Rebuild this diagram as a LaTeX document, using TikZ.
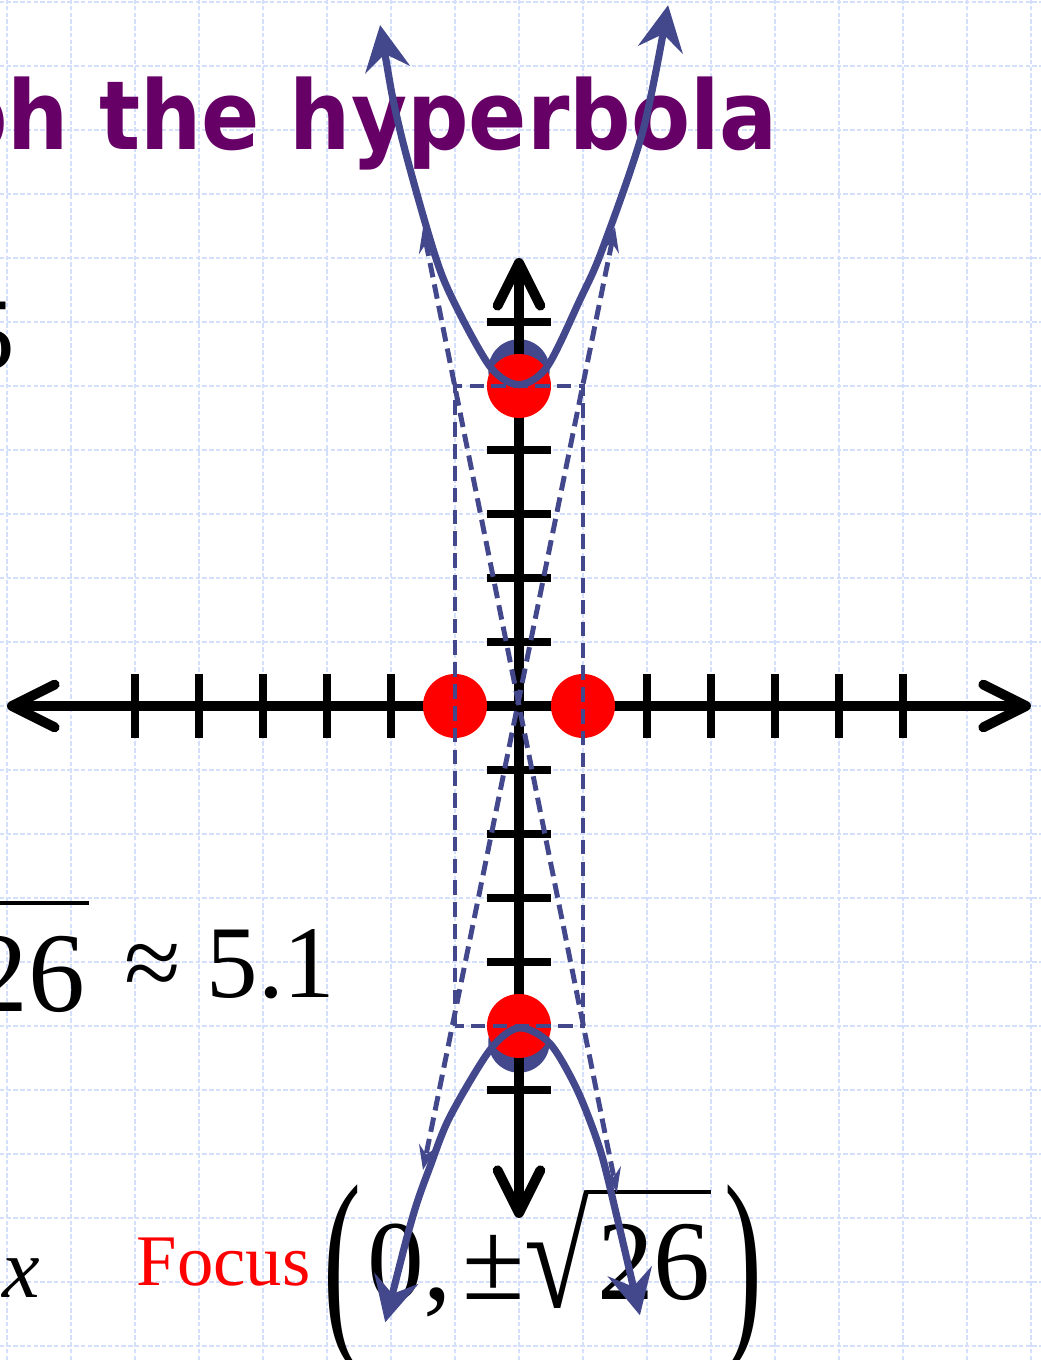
\documentclass[tikz,border=0pt]{standalone}
\usepackage{fontspec}
\usepackage{graphicx}
\setmainfont{Liberation Serif}
\newfontfamily\titlefont{DejaVu Sans}
\usepackage{tikz}
\usetikzlibrary{arrows.meta, positioning}
\definecolor{hblue}{RGB}{67,72,140}
\definecolor{hred}{RGB}{255,0,0}
\definecolor{hpurple}{RGB}{102,0,102}
\definecolor{hgrid}{RGB}{212,223,252}

\begin{document}
\begin{tikzpicture}[
  gridline/.style={draw=hgrid, line width=0.7pt, dash pattern=on 2pt off 1pt},
  axisline/.style={line width=4.4pt, >={Straight Barb[length=19pt,width=19pt,round]}, <->},
  tickmark/.style={line width=3.8pt},
  guide/.style={draw=hblue, line width=2.2pt, dash pattern=on 6.5pt off 3.2pt},
  asym/.style={guide, >={Stealth[length=11pt,width=8pt,inset=4pt]}, <->},
  branch/.style={draw=hblue, line width=3.2pt, >={Stealth[length=20pt,width=20pt,inset=7pt]}, <->},
  vdot/.style={circle, fill=hred, minimum size=1cm, inner sep=0pt},
  fdot/.style={circle, fill=hblue, minimum size=0.96cm, inner sep=0pt},
  label/.style={inner sep=0pt}]

  \useasboundingbox (-8.109,-10.219) rectangle (8.156,11.031);

  % background grid
  \foreach \gx in {-8,...,8}
    \draw[gridline] (\gx,-10.22) -- (\gx,11.03);
  \foreach \gy in {-10,...,11}
    \draw[gridline] (-8.11,\gy) -- (8.16,\gy);

  % ── title and side notes ──
  \node[label, anchor=base east, text=hpurple,
        font={\titlefont\bfseries\fontsize{42.5pt}{50pt}\selectfont}] (title) at (4.05,8.69)
    {\scalebox{0.9}[1]{ph the hyperbola}};
  \node[label, anchor=base east, font=\fontsize{45.8pt}{50pt}\selectfont] (aval) at (-7.86,5.25) {5};
  \node[label, anchor=base east, font=\fontsize{50.5pt}{56pt}\selectfont] (croot) at (-6.77,-4.78)
    {\rlap{\kern-0.1em\rule[0.94em]{1.13em}{0.035em}}26};
  \node[label, anchor=base east, font=\fontsize{45.8pt}{50pt}\selectfont] (capprox) at (-2.86,-4.55) {≈ 5.1};
  \node[label, anchor=base west, font=\itshape\fontsize{37.6pt}{42pt}\selectfont] (xvar) at (-8.08,-9.25) {x};
  \node[label, anchor=base west, text=hred, font=\fontsize{32.3pt}{36pt}\selectfont] (focus) at (-5.98,-9.05) {Focus};
  \node[label, anchor=base west, font=\fontsize{50.5pt}{56pt}\selectfont] (fcoord) at (-3.06,-9.28)
    {\raisebox{-0.27em}{\scalebox{1}[1.85]{(}}\kern0.05em 0,\kern0.09em ±\raisebox{-0.07em}{\scalebox{1.05}[1.3]{√}}\kern-0.04em\rlap{\rule[0.93em]{1.1em}{0.04em}}\kern0.1em 26\kern0.12em\raisebox{-0.27em}{\scalebox{1}[1.85]{)}}};

  % ── foci ──
  \node[fdot] (ftop) at (0,5.25) {};
  \node[fdot] (fbot) at (0,-5.25) {};

  % ── axes ──
  \coordinate (xl) at (-8,0);
  \coordinate (xr) at (8,0);
  \coordinate (yb) at (0,-8);
  \coordinate (yt) at (0,7);
  \draw[axisline] (xl) -- (xr);
  \draw[axisline] (yb) -- (yt);
  \foreach \t in {-6,...,-1,1,2,...,6} {
    \draw[tickmark] (\t,-0.5) -- (\t,0.5);
    \draw[tickmark] (-0.5,\t) -- (0.5,\t);
  }

  % ── vertices and co-vertices ──
  \node[vdot] (vtop) at (0,5) {};
  \node[vdot] (vbot) at (0,-5) {};
  \node[vdot] (cleft) at (-1,0) {};
  \node[vdot] (cright) at (1,0) {};

  % ── central box and asymptotes ──
  \draw[guide] (-1,-5) rectangle (1,5);
  \coordinate (a1s) at (-1.5,7.47);
  \coordinate (a1e) at (1.53,-7.6);
  \coordinate (a2s) at (1.5,7.48);
  \coordinate (a2e) at (-1.5,-7.25);
  \draw[asym] (a1s) -- (a1e);
  \draw[asym] (a2s) -- (a2e);

  % ── branches ──
  \draw[branch] plot[smooth] coordinates {(-2.17,10.64) (-1.86,9.0) (-1.34,7.13) (-1.03,6.34)
    (-0.45,5.30) (0,5.02) (0.44,5.30) (0.95,6.34) (1.30,7.13) (1.94,9.0) (2.33,10.95)};
  \draw[branch] plot[smooth] coordinates {(-2.09,-9.63) (-1.66,-7.98) (-1.39,-7.2) (-1.08,-6.42)
    (-0.45,-5.37) (0,-5.03) (0.48,-5.27) (0.91,-6.0) (1.27,-6.94) (1.53,-7.98) (1.89,-9.52)};

\end{tikzpicture}
\end{document}
